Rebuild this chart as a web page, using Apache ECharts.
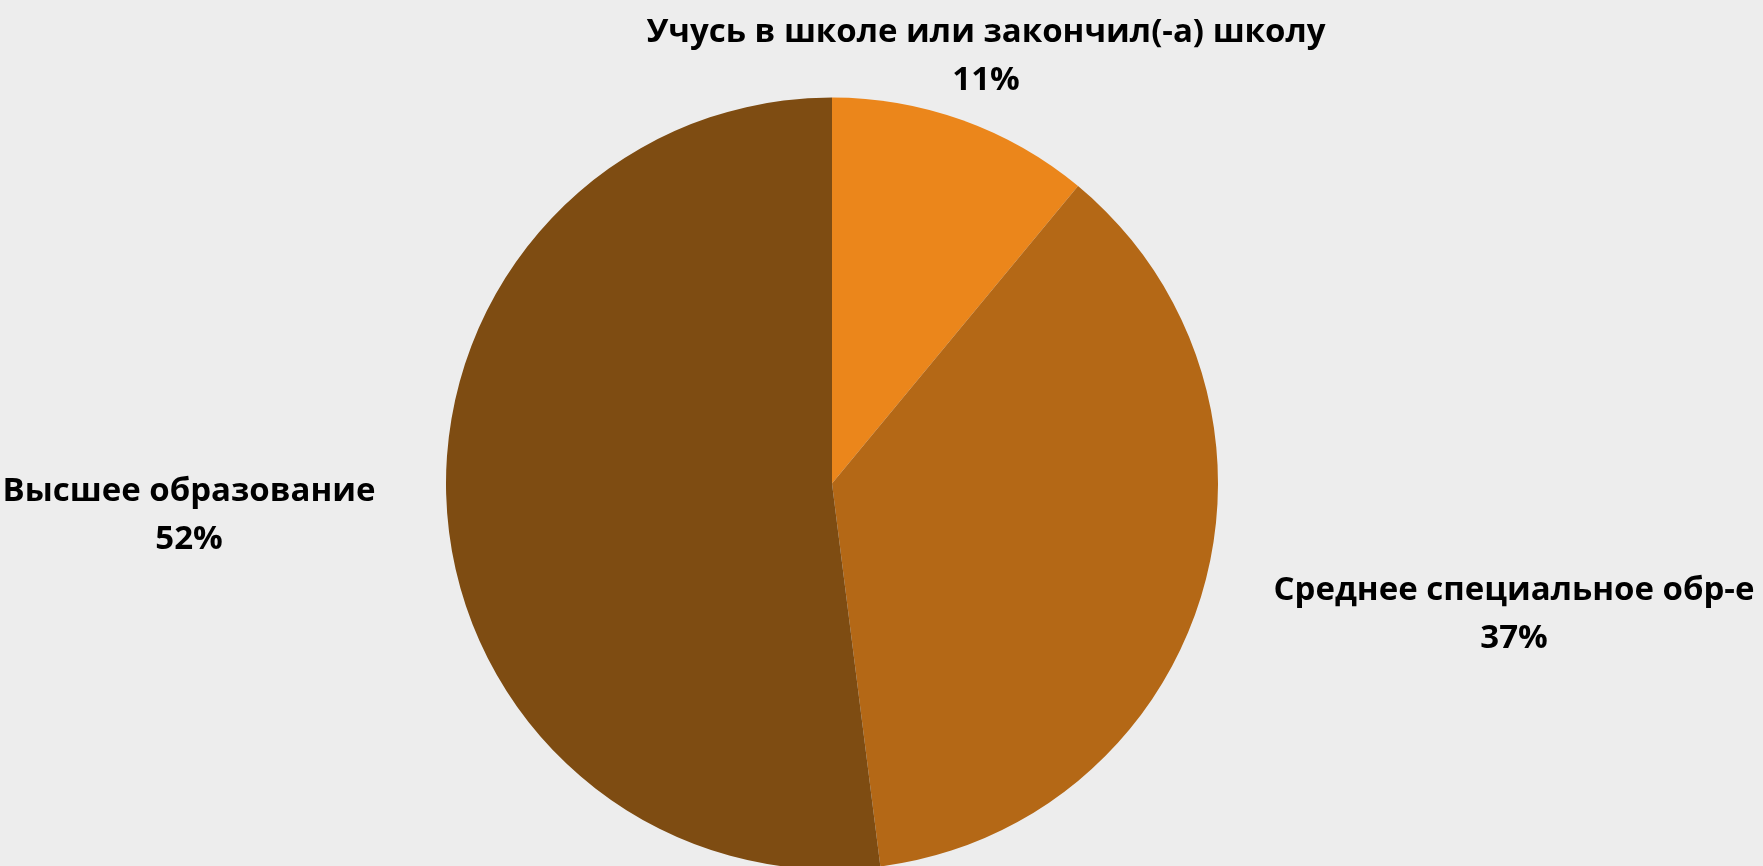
<!DOCTYPE html>
<html>
<head>
<meta charset="utf-8">
<script src="https://cdn.jsdelivr.net/npm/echarts@6/dist/echarts.min.js"></script>
<style>
  html, body { margin: 0; padding: 0; background: #ededed; }
  #chart { width: 1763px; height: 866px; }
</style>
</head>
<body>
<div id="chart"></div>
<script>
// Education level breakdown, percent
const categories = [
  'Учусь в школе или закончил(-а) школу',
  'Среднее специальное обр-е',
  'Высшее образование'
];
const shares = [11, 37, 52];
const sliceColors = ['#eb861b', '#b46816', '#7e4c12'];

// Label anchor points (centre of each two-line label block)
const labelAnchors = [
  [986, 57],
  [1514, 615],
  [189, 516]
];

const chart = echarts.init(document.getElementById('chart'), null, { renderer: 'canvas' });

chart.setOption({
  backgroundColor: '#ededed',
  animation: false,
  series: [{
    type: 'pie',
    center: [832, 483.5],
    radius: [0, 386],
    startAngle: 90,
    clockwise: true,
    avoidLabelOverlap: false,
    data: categories.map((name, i) => ({
      name,
      value: shares[i],
      itemStyle: { color: sliceColors[i] }
    })),
    itemStyle: { borderWidth: 0 },
    label: {
      show: true,
      position: 'outside',
      formatter: '{b}\n{c}%',
      fontFamily: 'Open Sans',
      fontWeight: 'bold',
      fontSize: 33,
      lineHeight: 48,
      color: '#000000',
      align: 'center'
    },
    labelLine: { show: false },
    labelLayout: function (params) {
      const p = labelAnchors[params.dataIndex];
      return { x: p[0], y: p[1], align: 'center', verticalAlign: 'middle' };
    }
  }]
});
</script>
</body>
</html>
